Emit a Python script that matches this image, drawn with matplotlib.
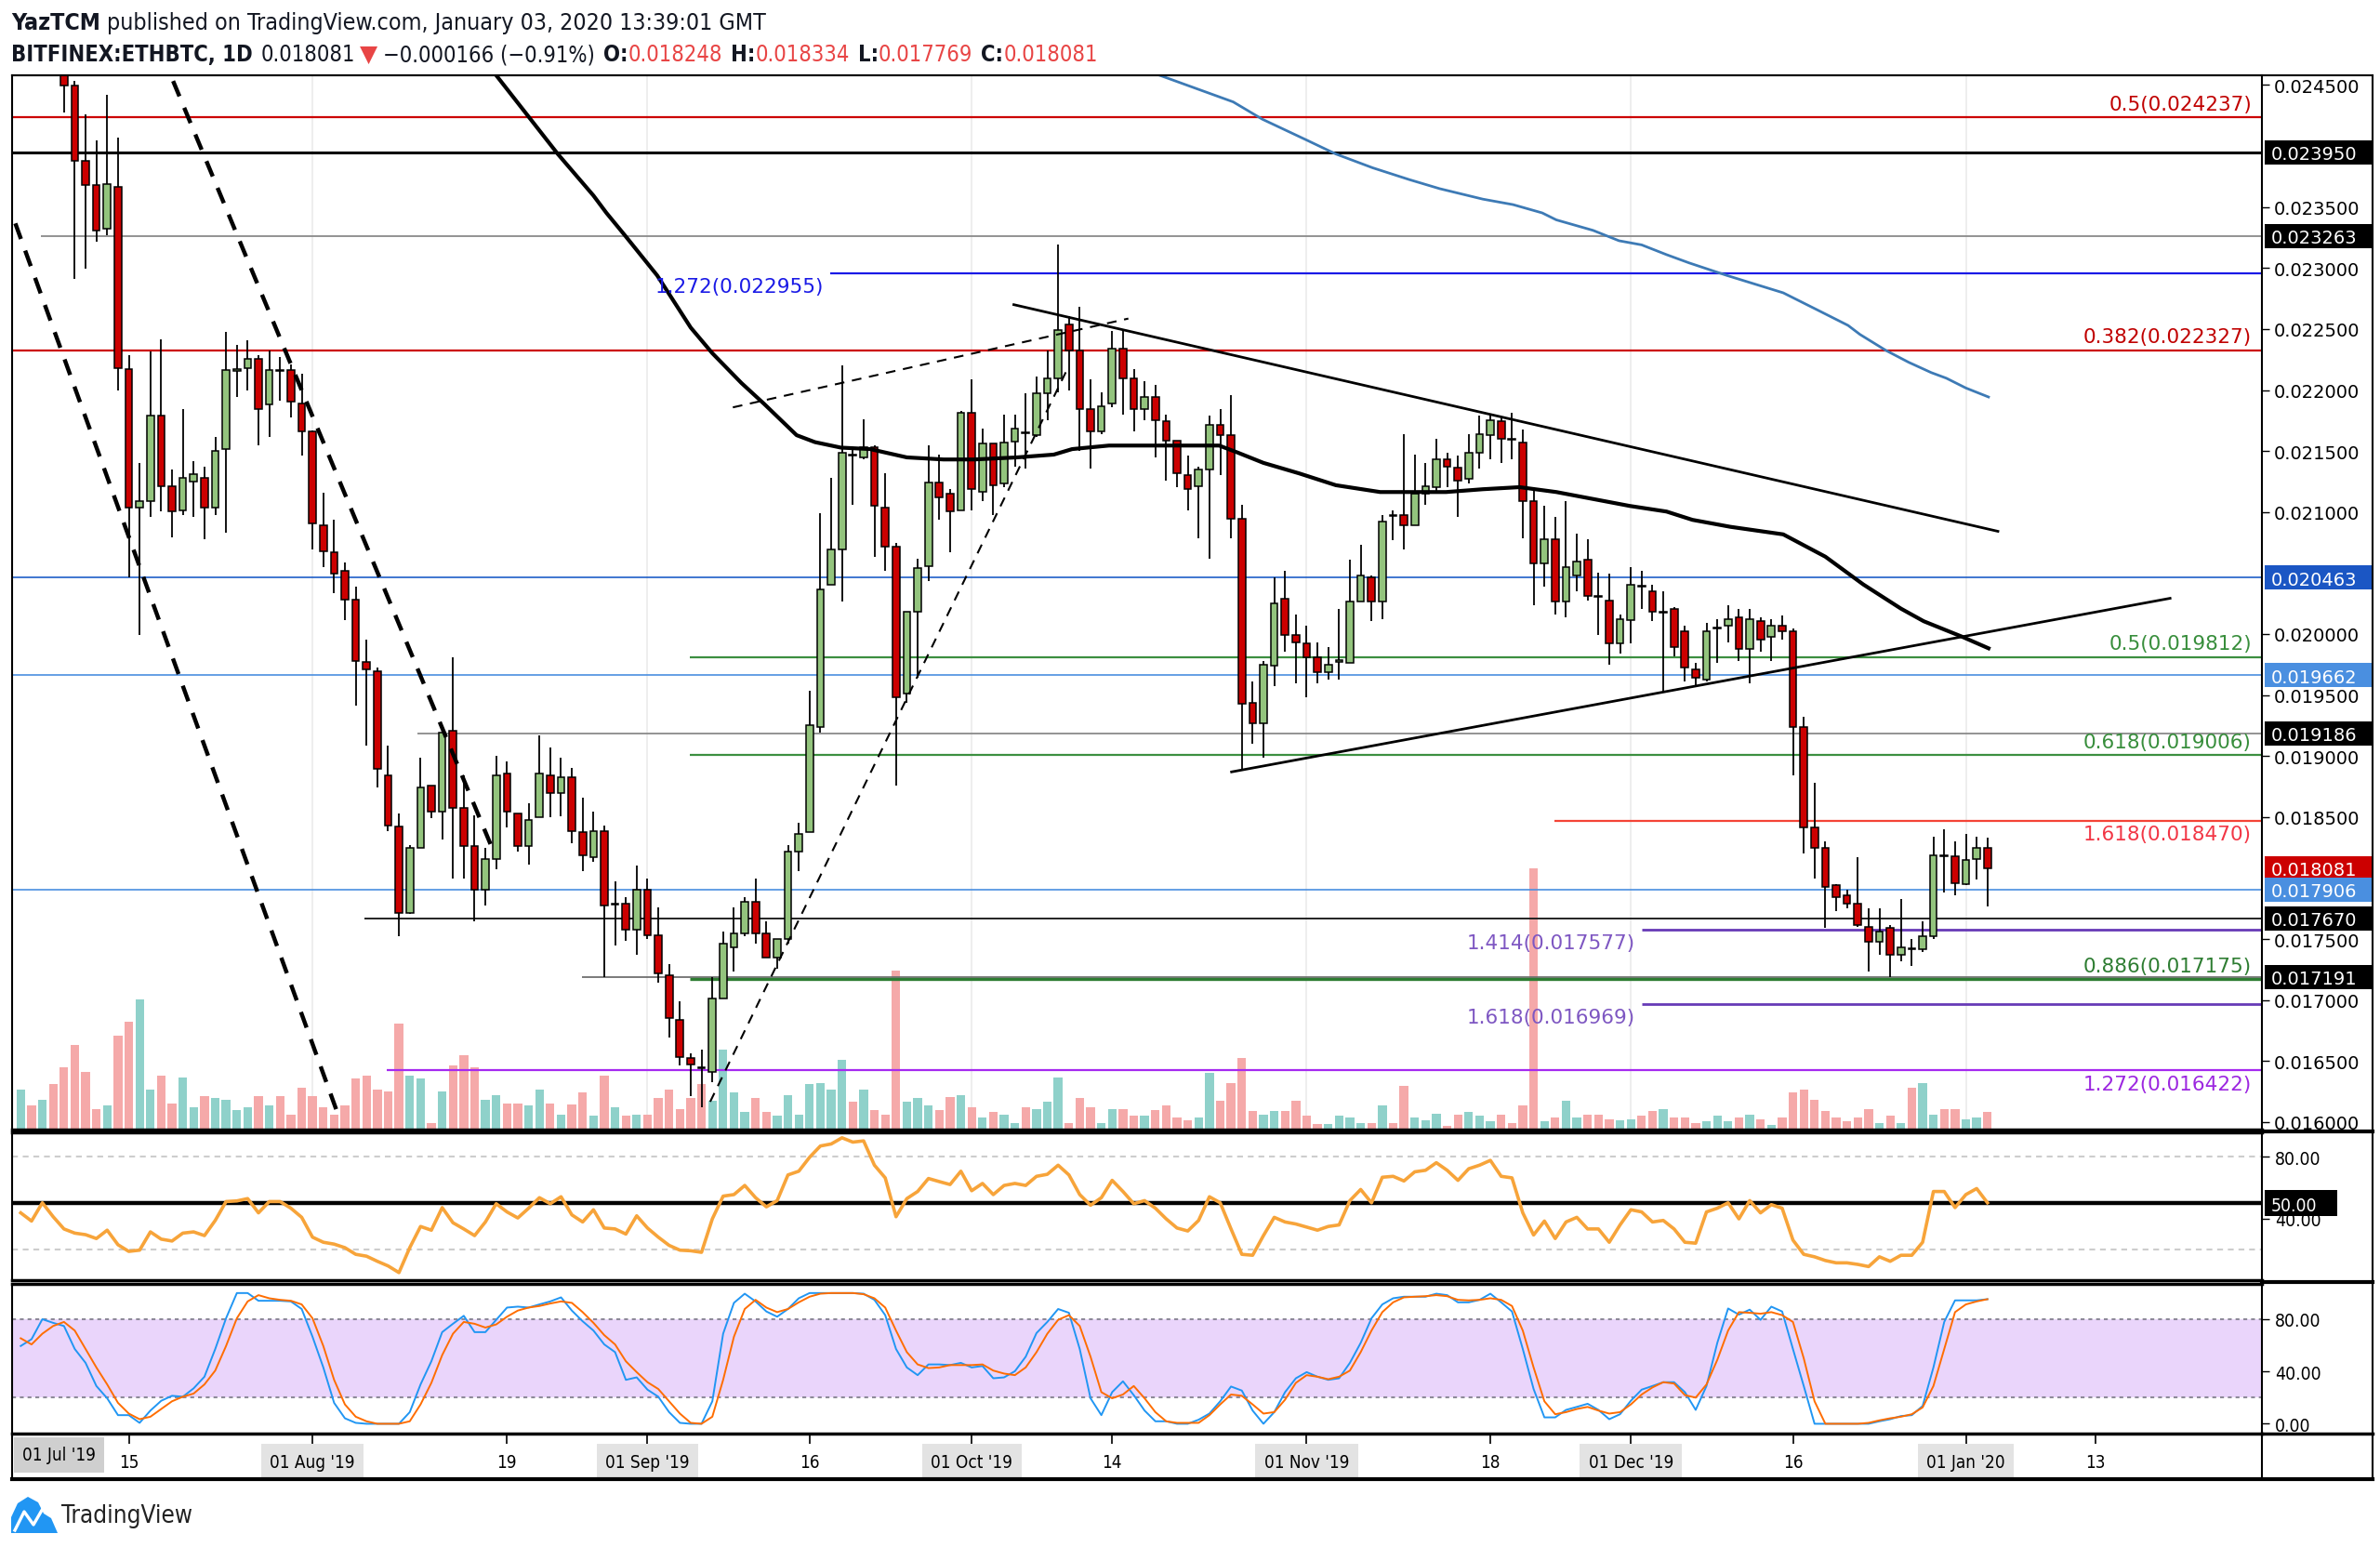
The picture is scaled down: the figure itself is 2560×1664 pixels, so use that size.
import os
import re
import matplotlib
matplotlib.use("Agg")
import matplotlib.pyplot as plt
import matplotlib.transforms as mtransforms
from matplotlib import font_manager as fm
from matplotlib.font_manager import FontProperties
from matplotlib.patches import Rectangle, Polygon
from matplotlib.lines import Line2D

# ---------------- data (day 0 = 2019-07-01) ----------------
first_day = 4

opens = [0.02490, 0.02505, 0.02488, 0.02500,
         0.02478, 0.024493, 0.023878, 0.023679, 0.023326, 0.023662, 0.022171, 0.021033, 0.021090, 0.021790,
         0.021215, 0.021016, 0.021249, 0.021278, 0.021033, 0.021516, 0.022160, 0.022182, 0.022256, 0.021881,
         0.022165, 0.022165, 0.021887, 0.021659, 0.020890, 0.020674, 0.020521, 0.020281, 0.019770, 0.019695,
         0.018841, 0.018426, 0.017715, 0.018244, 0.018756, 0.018546, 0.019211, 0.018574, 0.018261, 0.017902,
         0.018159, 0.018853, 0.018529, 0.018261, 0.018500, 0.018841, 0.018699, 0.018830, 0.018375, 0.018170,
         0.018386, 0.017783, 0.017789, 0.017578, 0.017902, 0.017533, 0.017202, 0.016838, 0.016525, 0.016445,
         0.016411, 0.017009, 0.017430, 0.017544, 0.017806, 0.017544, 0.017350, 0.017504, 0.018216, 0.018375,
         0.019240, 0.020407, 0.020692, 0.021471, 0.021448, 0.021533, 0.021033, 0.020720, 0.019513, 0.020179,
         0.020560, 0.021243, 0.021147, 0.021016, 0.021812, 0.021164, 0.021562, 0.021232, 0.021579, 0.021650,
         0.021630, 0.021972, 0.022097, 0.022541, 0.022325, 0.021847, 0.021659, 0.021887, 0.022342, 0.022097,
         0.021847, 0.021943, 0.021744, 0.021585, 0.021306, 0.021215, 0.021346, 0.021716, 0.021630, 0.020947,
         0.019439, 0.019268, 0.019741, 0.020293, 0.019991, 0.019923, 0.019809, 0.019684, 0.019775, 0.019764,
         0.020264, 0.020464, 0.020264, 0.020976, 0.020976, 0.020890, 0.021147, 0.021204, 0.021431, 0.021363,
         0.021272, 0.021488, 0.021630, 0.021744, 0.021602, 0.021573, 0.021090, 0.020577, 0.020776, 0.020264,
         0.020481, 0.020606, 0.020310, 0.020276, 0.019923, 0.020111, 0.020396, 0.020350, 0.020174, 0.020208,
         0.020020, 0.019712, 0.019627, 0.020043, 0.020065, 0.020139, 0.019877, 0.020105, 0.019980, 0.020065,
         0.020020, 0.019240, 0.018415, 0.018244, 0.017942, 0.017862, 0.017789, 0.017601, 0.017476, 0.017590,
         0.017373, 0.017419, 0.017419, 0.017521, 0.018181, 0.018176, 0.017948, 0.018159, 0.018248]

highs = [0.02520, 0.02525, 0.02515, 0.02510,
         0.02485, 0.024533, 0.024260, 0.024049, 0.024419, 0.024066, 0.022285, 0.021403, 0.022313, 0.022416,
         0.021346, 0.021841, 0.021414, 0.021369, 0.021619, 0.022473, 0.022370, 0.022410, 0.022285, 0.022325,
         0.022268, 0.022211, 0.022131, 0.021670, 0.021158, 0.020936, 0.020583, 0.020390, 0.019951, 0.019724,
         0.019086, 0.018528, 0.018272, 0.018984, 0.018756, 0.019194, 0.019809, 0.018841, 0.018511, 0.018244,
         0.019001, 0.018956, 0.018529, 0.018614, 0.019171, 0.019069, 0.018984, 0.018900, 0.018659, 0.018546,
         0.018432, 0.017976, 0.017840, 0.018102, 0.017999, 0.017760, 0.017293, 0.016992, 0.016564, 0.016593,
         0.017191, 0.017561, 0.017760, 0.017846, 0.017999, 0.017646, 0.017504, 0.018272, 0.018455, 0.019536,
         0.020993, 0.021278, 0.022199, 0.021516, 0.021761, 0.021545, 0.021317, 0.020748, 0.020179, 0.020617,
         0.021545, 0.021471, 0.021187, 0.021830, 0.022086, 0.021687, 0.021562, 0.021801, 0.021801, 0.021972,
         0.022114, 0.022325, 0.023195, 0.022609, 0.022683, 0.022086, 0.021983, 0.022484, 0.022495, 0.022171,
         0.022074, 0.022040, 0.021801, 0.021585, 0.021460, 0.021374, 0.021790, 0.021847, 0.021960, 0.021061,
         0.019610, 0.019780, 0.020464, 0.020521, 0.020162, 0.020065, 0.019934, 0.019894, 0.020208, 0.020606,
         0.020731, 0.020481, 0.020976, 0.021016, 0.021642, 0.021471, 0.021403, 0.021602, 0.021488, 0.021460,
         0.021642, 0.021790, 0.021790, 0.021773, 0.021812, 0.021676, 0.021187, 0.021050, 0.020959, 0.021090,
         0.020822, 0.020776, 0.020504, 0.020492, 0.020162, 0.020549, 0.020521, 0.020407, 0.020350, 0.020219,
         0.020065, 0.019763, 0.020094, 0.020122, 0.020236, 0.020208, 0.020208, 0.020139, 0.020122, 0.020151,
         0.020048, 0.019325, 0.018784, 0.018301, 0.017953, 0.017902, 0.018170, 0.017749, 0.017749, 0.017618,
         0.017828, 0.017504, 0.017646, 0.018341, 0.018398, 0.018301, 0.018358, 0.018341, 0.018334]

lows = [0.02476, 0.02480, 0.02475, 0.02470,
        0.024277, 0.022911, 0.022996, 0.023213, 0.023270, 0.021999, 0.020464, 0.019991, 0.020959, 0.021004,
        0.020793, 0.020976, 0.020959, 0.020776, 0.020976, 0.020833, 0.021943, 0.021999, 0.021545, 0.021619,
        0.021915, 0.021773, 0.021460, 0.020691, 0.020549, 0.020333, 0.020111, 0.019411, 0.019086, 0.018739,
        0.018386, 0.017521, 0.017703, 0.018244, 0.018489, 0.018318, 0.017999, 0.017999, 0.017646, 0.017771,
        0.018073, 0.018415, 0.018216, 0.018113, 0.018500, 0.018500, 0.018506, 0.018284, 0.018056, 0.018130,
        0.017191, 0.017447, 0.017487, 0.017373, 0.017504, 0.017145, 0.016690, 0.016462, 0.016212, 0.016121,
        0.016326, 0.017009, 0.017236, 0.017521, 0.017464, 0.017350, 0.017259, 0.017464, 0.018056, 0.018375,
        0.019194, 0.020407, 0.020265, 0.021061, 0.021431, 0.020634, 0.020521, 0.018756, 0.019439, 0.019638,
        0.020435, 0.020936, 0.020674, 0.021016, 0.021016, 0.021090, 0.020976, 0.021204, 0.021374, 0.021357,
        0.021619, 0.021756, 0.021983, 0.021999, 0.021505, 0.021357, 0.021642, 0.021858, 0.021801, 0.021659,
        0.021756, 0.021448, 0.021261, 0.021204, 0.021016, 0.020788, 0.020617, 0.021301, 0.020788, 0.018887,
        0.019097, 0.018984, 0.019570, 0.019854, 0.019593, 0.019479, 0.019593, 0.019627, 0.019627, 0.019764,
        0.020264, 0.020105, 0.020122, 0.020766, 0.020691, 0.020890, 0.021061, 0.021175, 0.021204, 0.020959,
        0.021232, 0.021357, 0.021431, 0.021403, 0.021431, 0.020788, 0.020236, 0.020390, 0.020162, 0.020139,
        0.020350, 0.020276, 0.019991, 0.019752, 0.019837, 0.019923, 0.020208, 0.020105, 0.019524, 0.019820,
        0.019610, 0.019570, 0.019610, 0.019764, 0.019934, 0.019781, 0.019593, 0.019854, 0.019781, 0.019951,
        0.018841, 0.018204, 0.017999, 0.017590, 0.017732, 0.017749, 0.017601, 0.017237, 0.017373, 0.017191,
        0.017316, 0.017276, 0.017390, 0.017504, 0.017885, 0.017862, 0.017942, 0.017988, 0.017769]

closes = [0.02505, 0.02488, 0.02500, 0.02478,
          0.024493, 0.023878, 0.023679, 0.023309, 0.023691, 0.022182, 0.021033, 0.021090, 0.021790, 0.021215,
          0.021004, 0.021278, 0.021312, 0.021033, 0.021505, 0.022165, 0.022171, 0.022256, 0.021847, 0.022165,
          0.022160, 0.021904, 0.021659, 0.020907, 0.020680, 0.020492, 0.020281, 0.019781, 0.019707, 0.018898,
          0.018432, 0.017715, 0.018244, 0.018745, 0.018546, 0.019194, 0.018574, 0.018261, 0.017902, 0.018159,
          0.018841, 0.018546, 0.018261, 0.018472, 0.018853, 0.018699, 0.018824, 0.018386, 0.018187, 0.018386,
          0.017771, 0.017789, 0.017578, 0.017902, 0.017533, 0.017219, 0.016849, 0.016536, 0.016468, 0.016440,
          0.017009, 0.017459, 0.017544, 0.017806, 0.017544, 0.017350, 0.017504, 0.018216, 0.018358, 0.019251,
          0.020367, 0.020692, 0.021488, 0.021465, 0.021533, 0.021050, 0.020720, 0.019479, 0.020179, 0.020538,
          0.021243, 0.021118, 0.021004, 0.021812, 0.021186, 0.021562, 0.021220, 0.021573, 0.021687, 0.021645,
          0.021972, 0.022097, 0.022495, 0.022325, 0.021847, 0.021659, 0.021869, 0.022342, 0.022097, 0.021847,
          0.021943, 0.021756, 0.021585, 0.021317, 0.021186, 0.021346, 0.021716, 0.021630, 0.020947, 0.019428,
          0.019268, 0.019752, 0.020253, 0.019991, 0.019934, 0.019809, 0.019684, 0.019752, 0.019780, 0.020264,
          0.020481, 0.020264, 0.020919, 0.020970, 0.020890, 0.021147, 0.021215, 0.021431, 0.021374, 0.021261,
          0.021488, 0.021642, 0.021756, 0.021602, 0.021596, 0.021090, 0.020577, 0.020776, 0.020264, 0.020549,
          0.020595, 0.020310, 0.020305, 0.019923, 0.020122, 0.020407, 0.020390, 0.020179, 0.020179, 0.019894,
          0.019724, 0.019638, 0.020020, 0.020048, 0.020122, 0.019877, 0.020122, 0.019951, 0.020065, 0.020020,
          0.019240, 0.018415, 0.018244, 0.017930, 0.017845, 0.017789, 0.017618, 0.017476, 0.017561, 0.017373,
          0.017430, 0.017413, 0.017521, 0.018187, 0.018176, 0.017959, 0.018147, 0.018244, 0.018081]

volumes = [58, 35, 43, 65,
           90, 122, 83, 30, 35, 135, 155, 187, 58, 78,
           38, 75, 32, 48, 45, 43, 28, 32, 48, 35,
           48, 22, 60, 48, 32, 22, 35, 73, 78, 58,
           55, 152, 78, 73, 10, 55, 92, 107, 90, 43,
           50, 38, 38, 35, 58, 38, 22, 36, 53, 20,
           77, 32, 20, 22, 22, 45, 58, 30, 45, 65,
           42, 115, 53, 25, 45, 25, 20, 50, 22, 65,
           67, 57, 100, 40, 58, 28, 22, 228, 40, 45,
           35, 28, 47, 50, 32, 18, 25, 22, 10, 32,
           30, 40, 75, 10, 45, 32, 10, 30, 29, 20,
           20, 28, 35, 17, 13, 17, 82, 42, 67, 103,
           27, 22, 27, 27, 42, 20, 8, 8, 20, 17,
           10, 10, 35, 10, 63, 18, 13, 23, 5, 22,
           25, 20, 12, 22, 10, 35, 375, 12, 17, 42,
           17, 22, 22, 15, 13, 15, 20, 27, 30, 18,
           17, 10, 12, 20, 12, 17, 22, 15, 7, 17,
           53, 58, 43, 27, 17, 12, 17, 30, 10, 20,
           10, 60, 67, 22, 30, 30, 15, 17, 25]

rsi = [43.7, 38.4, 50.2, 41.2, 33.3, 30.6, 29.6, 27.1, 32.5, 23.1,
       18.8, 19.6, 31.4, 26.7, 25.5, 30.6, 31.4, 29.0, 38.8, 51.0,
       51.4, 52.9, 43.7, 51.0, 51.0, 46.7, 40.8, 28.0, 24.7, 23.5,
       21.2, 16.9, 15.7, 12.4, 9.4, 5.1, 21.2, 34.9, 32.5, 47.1,
       37.3, 33.3, 29.0, 37.8, 49.6, 44.3, 40.4, 46.7, 53.5, 49.6,
       54.1, 42.4, 37.8, 45.7, 33.9, 33.3, 30.0, 41.8, 33.9, 28.0,
       22.7, 19.6, 19.2, 18.2, 39.8, 54.5, 55.5, 61.4, 53.5, 47.6,
       51.6, 68.2, 70.6, 79.6, 86.9, 88.2, 92.2, 89.4, 90.2, 74.5,
       66.3, 41.2, 52.9, 57.5, 65.9, 63.9, 62.0, 70.6, 58.0, 62.7,
       55.5, 61.4, 62.7, 61.4, 67.3, 68.6, 74.5, 68.2, 55.5, 48.6,
       53.5, 64.7, 57.5, 49.6, 51.6, 46.7, 39.8, 33.9, 32.0,
       38.8, 54.1, 50.2, 33.3, 16.9, 16.3, 29.0, 40.8, 37.8, 36.5,
       34.5, 32.5, 34.9, 35.9, 51.6, 58.8, 50.2, 66.7, 67.3, 64.3,
       70.2, 71.2, 76.1, 71.2, 64.7, 72.2, 74.5, 77.6, 67.3, 66.3,
       43.7, 29.4, 38.4, 27.1, 37.8, 40.8, 33.3, 33.3, 24.7, 35.9,
       45.7, 44.3, 37.8, 38.8, 33.3, 24.7, 24.1, 44.3, 46.7, 50.2,
       39.8, 51.6, 43.7, 49.0, 46.7, 26.1, 16.9, 15.3, 12.9, 11.4,
       11.4, 10.4, 9.0, 15.3, 12.4, 16.3, 16.3, 24.7, 57.5, 57.5,
       47.1, 55.5, 59.4, 50.2]

stoch_k = [59.5, 64.7, 80.0, 77.2, 74.8, 57.2, 46.6, 28.9, 19.5, 6.6,
           6.6, 0.7, 10.1, 17.6, 21.4, 20.7, 27.1, 36.0, 57.2, 80.7,
           100, 100, 94.1, 94.1, 94.1, 93.6, 87.8, 66.6, 43.1, 16.0,
           4.2, 0.7, 0, 0, 0, 0, 8.9, 30.1, 47.8, 70.1,
           76.5, 82.6, 70.1, 70.1, 79.5, 88.9, 89.6, 88.9, 91.3, 93.6,
           96.7, 86.6, 78.4, 71.3, 60.7, 54.8, 33.6, 35.5, 26.1, 20.7,
           8.9, 0.7, 0, 0, 17.2, 68.9, 92.5, 99.5, 93.6, 85.9,
           81.9, 87.8, 96.0, 100, 100, 100, 100, 100, 99.5, 94.8,
           83.1, 57.2, 43.1, 37.2, 45.4, 45.4, 44.9, 46.6, 43.1, 44.2,
           34.8, 35.5, 40.2, 51.3, 69.4, 77.9, 87.8, 84.9, 57.2, 19.5,
           6.6, 24.2, 32.5, 21.9, 10.1, 1.9, 1.9, 0, 0,
           3.1, 7.8, 17.2, 28.5, 25.4, 10.1, 0, 8.9, 24.2, 34.8,
           39.5, 36.0, 33.6, 34.8, 46.6, 61.9, 80.7, 91.3, 96.0, 97.2,
           97.2, 97.2, 99.5, 98.4, 92.9, 92.9, 94.8, 99.5, 92.9, 85.9,
           57.2, 26.6, 4.9, 4.9, 10.6, 12.9, 15.3, 10.6, 3.5, 7.3,
           17.6, 26.1, 28.9, 31.8, 31.8, 24.2, 10.6, 28.9, 61.9, 88.2,
           83.5, 87.3, 79.5, 89.6, 85.9, 57.2, 28.9, 0, 0, 0,
           0, 0, 0, 1.9, 3.5, 5.9, 6.6, 13.6, 43.1, 77.9,
           94.4, 94.4, 94.4, 95.3]

stoch_d = [65.4, 60.7, 68.9, 74.8, 77.9, 71.3, 57.2, 43.1, 30.1, 16.0,
           7.8, 3.5, 5.4, 11.3, 17.2, 20.7, 23.1, 30.1, 40.7, 59.5,
           80.7, 93.6, 98.4, 96.0, 94.8, 94.1, 91.3, 80.7, 59.5, 33.6,
           14.8, 5.4, 1.9, 0, 0, 0, 1.9, 14.8, 31.3, 52.5,
           68.9, 77.9, 76.5, 73.6, 76.0, 81.9, 86.6, 88.9, 90.1, 92.0,
           93.6, 92.5, 85.4, 77.2, 67.8, 60.7, 47.8, 39.5, 31.8, 26.6,
           17.2, 7.8, 0.7, 0, 5.4, 33.6, 66.6, 87.8, 94.8, 88.9,
           85.4, 87.8, 92.9, 97.2, 99.5, 100, 100, 100, 99.1, 96.0,
           88.9, 71.3, 54.8, 45.4, 42.6, 43.1, 44.9, 44.9, 44.9, 45.4,
           40.7, 38.4, 37.2, 43.1, 54.8, 68.9, 79.5, 83.1, 74.8, 51.3,
           24.2, 19.5, 22.4, 28.9, 19.5, 8.9, 1.9, 0.7, 0.7,
           0.7, 6.6, 14.8, 22.4, 21.4, 14.8, 7.8, 8.9, 18.4, 31.3,
           37.2, 36.0, 34.1, 36.0, 40.7, 54.8, 71.3, 85.4, 92.9, 96.7,
           97.2, 97.6, 98.4, 97.6, 94.8, 94.4, 94.8, 96.0, 94.8, 90.1,
           71.3, 43.1, 17.2, 7.3, 8.9, 11.3, 12.9, 10.1, 7.8, 8.9,
           14.8, 22.4, 27.8, 31.8, 30.8, 21.9, 20.0, 30.1, 48.9, 71.3,
           85.4, 84.9, 84.2, 85.4, 83.1, 77.9, 50.1, 17.2, 0, 0,
           0, 0, 0.7, 2.6, 4.2, 5.4, 7.3, 12.5, 28.9, 57.2,
           85.4, 91.3, 93.6, 95.3]

ma_blue_days = [109.4, 116.2, 118.9, 123.0, 125.7, 129.1, 132.5, 135.3, 139.3, 142.1, 144.8, 146.1,
                149.5, 151.9, 154.0, 156.3, 158.4, 161.9, 167.1, 170.3, 173.1, 174.2, 176.6, 178.7,
                180.8, 182.2, 184.0, 186.1]
ma_blue = [0.02458, 0.024362, 0.024220, 0.024049, 0.023935, 0.023822, 0.023725, 0.023651, 0.023565,
           0.023520, 0.023452, 0.023395, 0.023309, 0.023224, 0.023190, 0.023110, 0.023042, 0.022939,
           0.022797, 0.022655, 0.022530, 0.022456, 0.022325, 0.022228, 0.022143, 0.022097, 0.022017,
           0.021943]

ma_black_days = [48.0, 53.7, 57.0, 58.2, 59.9, 62.9, 66.0, 68.0, 70.7, 72.8, 75.8, 77.5, 79.9, 82.6,
                 86.0, 89.4, 92.2, 96.2, 99.6, 101.3, 104.7, 108.7, 114.9, 116.6, 119.0, 122.3, 125.7,
                 129.8, 135.9, 139.3, 142.7, 146.1, 149.5, 152.9, 156.3, 158.7, 162.2, 167.1, 171.0,
                 174.5, 178.0, 180.1, 183.6, 186.1]
ma_black = [0.02458, 0.023935, 0.023594, 0.023452, 0.023269, 0.022939, 0.022512, 0.022302, 0.022057,
            0.021886, 0.021630, 0.021573, 0.021528, 0.021516, 0.021448, 0.021431, 0.021431, 0.021448,
            0.021471, 0.021516, 0.021545, 0.021545, 0.021545, 0.021488, 0.021403, 0.021317, 0.021220,
            0.021164, 0.021164, 0.021187, 0.021204, 0.021164, 0.021107, 0.021050, 0.021004, 0.020936,
            0.020879, 0.020817, 0.020634, 0.020407, 0.020208, 0.020105, 0.019980, 0.019883]

# trend lines: (day0, price0, day1, price1)
channel_dash = [(3.5, 0.023366, 33.4, 0.016053), (18.1, 0.024533, 47.5, 0.018272)]
thin_dash = [(67.8, 0.016166, 101.0, 0.022199), (69.9, 0.021858, 106.5, 0.022586)]
solid_trend = [(95.9, 0.022700, 186.97, 0.020842), (116.05, 0.018870, 202.9, 0.020293)]

# horizontal levels: value, first day of the line (None = whole pane)
level_values = [0.024237, 0.023950, 0.023263, 0.022955, 0.022327, 0.020463, 0.019812, 0.019662,
                0.019186, 0.019006, 0.018470, 0.017906, 0.017670, 0.017577, 0.017191, 0.017175,
                0.016969, 0.016422]
level_start = [None, None, 5.9, 78.9, None, None, 65.9, None,
               40.7, 65.9, 145.9, None, 35.8, 154.0, 55.9, 65.9,
               154.0, 37.9]
level_colors = ['#cc0000', '#000000', '#8a8a8a', '#1a1ae6', '#cc0000', '#1f5fc8', '#3c8f40', '#4a8fe0',
                '#8a8a8a', '#3c8f40', '#f44336', '#4a8fe0', '#222222', '#673ab7', '#6f6f6f', '#2e7d32',
                '#673ab7', '#a52af0']
level_lw = [1.6, 2.2, 1.3, 1.6, 1.6, 1.2, 1.6, 1.2, 1.3, 1.6, 1.6, 1.2, 1.4, 2.0, 1.3, 2.4, 2.0, 1.6]

fib_right = [(0.024237, '0.5(0.024237)', '#c00000', 'above'),
             (0.022327, '0.382(0.022327)', '#c00000', 'above'),
             (0.019812, '0.5(0.019812)', '#388e3c', 'above'),
             (0.019006, '0.618(0.019006)', '#388e3c', 'above'),
             (0.018470, '1.618(0.018470)', '#f23645', 'below'),
             (0.017175, '0.886(0.017175)', '#2e7d32', 'above'),
             (0.016422, '1.272(0.016422)', '#9c27e0', 'below')]
fib_left = [(0.022955, 78.9, '1.272(0.022955)', '#1a1ae6'),
            (0.017577, 154.0, '1.414(0.017577)', '#7e57c2'),
            (0.016969, 154.0, '1.618(0.016969)', '#7e57c2')]

price_ticks = [0.0245, 0.0235, 0.0230, 0.0225, 0.0220, 0.0215, 0.0210, 0.0200, 0.0195,
               0.0190, 0.0185, 0.0175, 0.0170, 0.0165, 0.0160]
price_boxes = [(0.023950, '#000000'), (0.023263, '#000000'), (0.020463, '#1b56c4'),
               (0.019662, '#4a8fe0'), (0.019186, '#000000'), (0.018081, '#cc0000'),
               (0.017906, '#4a8fe0'), (0.017670, '#000000'), (0.017191, '#000000')]

month_days = [31, 62, 92, 123, 153, 184]
date_ticks = [14, 31, 49, 62, 77, 92, 105, 123, 140, 153, 168, 184, 196]
date_labels = ['15', "01 Aug '19", '19', "01 Sep '19", '16', "01 Oct '19", '14',
               "01 Nov '19", '18', "01 Dec '19", '16', "01 Jan '20", '13']


# ---------------- fonts: pick a narrow face if one is installed ----------------
def narrow_font(bold):
    prefs = ['liberationsansnarrow', 'dejavusanscondensed', 'notosanscondensed',
             'robotocondensed', 'opensanscondensed']
    best, best_rank = None, len(prefs)
    for f in fm.fontManager.ttflist:
        if f.style != 'normal':
            continue
        w = f.weight if isinstance(f.weight, int) else fm.weight_dict.get(f.weight, 400)
        if bold and not (650 <= w <= 750):
            continue
        if not bold and w != 400:
            continue
        key = re.sub('[^a-z]', '', (f.name + os.path.basename(f.fname)).lower())
        for rank, p in enumerate(prefs):
            if p in key and rank < best_rank:
                best, best_rank = f.fname, rank
    if best is None:
        return FontProperties(family='Liberation Sans', weight='bold' if bold else 'normal')
    return FontProperties(fname=best)


FP_REG = narrow_font(False)
FP_BOLD = narrow_font(True)

W, H = 2560, 1665
fig = plt.figure(figsize=(W / 100, H / 100), dpi=100)
fig.patch.set_facecolor('white')
renderer = fig.canvas.get_renderer()


def fp(bold=False, size=16):
    p = (FP_BOLD if bold else FP_REG).copy()
    p.set_size(size)
    return p


def text_width(s, prop):
    t = fig.text(0, 0, s, fontproperties=prop)
    w = t.get_window_extent(renderer).width
    t.remove()
    return w


def fit_size(s, bold, target_px, base=20.0):
    return base * target_px / text_width(s, fp(bold, base))


def box(x0, y_top, x1, y_bot):
    return [x0 / W, 1 - y_bot / H, (x1 - x0) / W, (y_bot - y_top) / H]


ax = fig.add_axes(box(13, 82, 2433, 1216))
ax_vol = ax.twinx()
ax_rsi = fig.add_axes(box(13, 1219, 2433, 1378), sharex=ax)
ax_st = fig.add_axes(box(13, 1382, 2433, 1543), sharex=ax)

XMIN, XMAX = 3.2, 211.4
YMIN, YMAX = 0.015938, 0.02458
ax.set_xlim(XMIN, XMAX)
ax.set_ylim(YMIN, YMAX)

days = list(range(first_day, first_day + len(closes)))
up = [c >= o for o, c in zip(opens, closes)]

# volume (behind everything)
ax_vol.bar(days, volumes, width=0.8, color=['#8fd1ca' if u else '#f5a9a9' for u in up], zorder=1)
ax_vol.set_ylim(0, 1515)
ax_vol.set_yticks([])
for s in ax_vol.spines.values():
    s.set_visible(False)
for md in month_days:
    ax_vol.axvline(md, color='#ebebeb', lw=1.2, zorder=0)
ax.set_zorder(ax_vol.get_zorder() + 1)
ax.patch.set_visible(False)

# levels
for v, st, c, lw in zip(level_values, level_start, level_colors, level_lw):
    ax.hlines(v, XMIN if st is None else st, XMAX, colors=c, lw=lw, zorder=2)

# candles
ax.vlines(days, lows, highs, colors='black', lw=1.3, zorder=3)
ax.bar(days, [max(abs(c - o), 0.000008) for o, c in zip(opens, closes)],
       bottom=[min(o, c) for o, c in zip(opens, closes)], width=0.66,
       color=['#93c47d' if u else '#cc0000' for u in up], edgecolor='black', linewidth=1.1, zorder=4)

# moving averages
ax.plot(ma_blue_days, ma_blue, color='#3d7ab5', lw=2.0, zorder=5)
ax.plot(ma_black_days, ma_black, color='black', lw=3.0, zorder=5)

# trend lines
for d0, p0, d1, p1 in channel_dash:
    ax.plot([d0, d1], [p0, p1], color='black', lw=3.2, linestyle=(0, (4, 3)), zorder=5)
for d0, p0, d1, p1 in thin_dash:
    ax.plot([d0, d1], [p0, p1], color='black', lw=1.5, linestyle=(0, (5, 4)), zorder=5)
for d0, p0, d1, p1 in solid_trend:
    ax.plot([d0, d1], [p0, p1], color='black', lw=2.0, zorder=5)

# fib labels
tr_ax = mtransforms.blended_transform_factory(ax.transAxes, ax.transData)
for v, txt, c, where in fib_right:
    ax.annotate(txt, xy=(1, v), xycoords=tr_ax, xytext=(-8, 3 if where == 'above' else -3),
                textcoords='offset points', ha='right', va='bottom' if where == 'above' else 'top',
                fontsize=15.5, color=c, family='DejaVu Sans', zorder=6)
for v, d_end, txt, c in fib_left:
    ax.annotate(txt, xy=(d_end, v), xytext=(-5, -3), textcoords='offset points',
                ha='right', va='top', fontsize=15.5, color=c, family='DejaVu Sans', zorder=6)

# price scale
ax.yaxis.tick_right()
ax.set_yticks(price_ticks)
ax.set_yticklabels([f'{v:.6f}' for v in price_ticks])
ax.tick_params(axis='y', direction='out', length=6, width=1, pad=3, labelsize=14)
ax.tick_params(axis='x', bottom=False, labelbottom=False)


def scale_box(axis, value, text, color, x1_px, prop, half_px=13):
    tr = mtransforms.blended_transform_factory(fig.transFigure, axis.transData)
    y0, y1 = axis.get_ylim()
    half = half_px * (y1 - y0) / (axis.get_position().height * H)
    axis.add_patch(Rectangle((2436 / W, value - half), (x1_px - 2436) / W, 2 * half, transform=tr,
                             facecolor=color, edgecolor='none', clip_on=False, zorder=8))
    axis.text(2443 / W, value, text, transform=tr, color='white', fontproperties=prop,
              va='center_baseline', ha='left', clip_on=False, zorder=9)


price_prop = FontProperties(family='DejaVu Sans', size=14)
for v, c in price_boxes:
    scale_box(ax, v, f'{v:.6f}', c, 2552, price_prop)

# indicator scale labels (narrow font)
ind_size = fit_size('80.00', False, 50)
ind_prop = fp(False, ind_size)

# RSI pane
rsi_days = list(range(first_day, first_day + len(rsi)))
ax_rsi.set_ylim(0.2, 95.7)
ax_rsi.axhline(80, color='#cdcdcd', lw=1.5, linestyle=(0, (3, 2.5)))
ax_rsi.axhline(20, color='#cdcdcd', lw=1.5, linestyle=(0, (3, 2.5)))
ax_rsi.axhline(50, color='black', lw=3.2, zorder=2)
ax_rsi.plot(rsi_days, rsi, color='#f7a43a', lw=2.6, zorder=3)
ax_rsi.yaxis.tick_right()
ax_rsi.set_yticks([40, 80])
ax_rsi.set_yticklabels(['40.00', '80.00'])
ax_rsi.tick_params(axis='y', direction='out', length=6, width=1, pad=4)
ax_rsi.tick_params(axis='x', bottom=False, labelbottom=False)
for lbl in ax_rsi.get_yticklabels():
    lbl.set_fontproperties(ind_prop)
scale_box(ax_rsi, 50, '50.00', '#000000', 2514, ind_prop, half_px=14)

# Stoch RSI pane
st_days = list(range(first_day, first_day + len(stoch_k)))
ax_st.set_ylim(-7.5, 107)
ax_st.axhspan(20, 80, color='#ead5fb', lw=0, zorder=0)
ax_st.axhline(80, color='#8e8a99', lw=1.5, linestyle=(0, (2, 2)))
ax_st.axhline(20, color='#8e8a99', lw=1.5, linestyle=(0, (2, 2)))
ax_st.plot(st_days, stoch_k, color='#2196f3', lw=1.4, zorder=3)
ax_st.plot(st_days, stoch_d, color='#ff6d00', lw=1.4, zorder=3)
ax_st.yaxis.tick_right()
ax_st.set_yticks([0, 40, 80])
ax_st.set_yticklabels(['0.00', '40.00', '80.00'])
ax_st.tick_params(axis='y', direction='out', length=6, width=1, pad=4)
for lbl in ax_st.get_yticklabels():
    lbl.set_fontproperties(ind_prop)

# date axis
date_size = fit_size("01 Oct '19", False, 88)
date_prop = fp(False, date_size)
ax_st.set_xticks(date_ticks)
ax_st.set_xticklabels(date_labels)
ax_st.tick_params(axis='x', direction='out', length=8, width=1.2, pad=7)
for lbl in ax_st.get_xticklabels():
    lbl.set_fontproperties(date_prop)
    if lbl.get_text().startswith('01'):
        lbl.set_bbox(dict(boxstyle='square,pad=0.5', facecolor='#e3e3e3', edgecolor='none'))
ax_st.set_xlim(XMIN, XMAX)

fig.text(24 / W, 1 - 1566 / H, "01 Jul '19", fontproperties=date_prop, va='center', ha='left',
         bbox=dict(boxstyle='square,pad=0.5', facecolor='#cfcfcf', edgecolor='none'))

for a in (ax, ax_rsi, ax_st):
    for s in a.spines.values():
        s.set_color('black')
        s.set_linewidth(1.5)
ax.spines['bottom'].set_linewidth(2.5)
ax_rsi.spines['top'].set_linewidth(2.5)
ax_rsi.spines['bottom'].set_linewidth(2.5)
ax_st.spines['top'].set_linewidth(2.5)
ax_st.spines['bottom'].set_linewidth(2.5)


def fig_line(xs, ys, lw):
    fig.add_artist(Line2D([x / W for x in xs], [1 - y / H for y in ys], color='black', lw=lw,
                          transform=fig.transFigure))


fig_line([13, 2552], [82, 82], 1.5)
fig_line([2552, 2552], [82, 1592], 1.5)
fig_line([2433, 2552], [1217.5, 1217.5], 3)
fig_line([2433, 2552], [1380, 1380], 3)
fig_line([2433, 2552], [1543, 1543], 2.5)
fig_line([13, 13], [1543, 1592], 1.5)
fig_line([2433, 2433], [1543, 1592], 1.5)
fig_line([13, 2552], [1592, 1592], 3)

# header
RED = '#e84545'
DARK = '#131722'
line1 = [(0, 'YazTCM', True, DARK),
         (7, 'published on TradingView.com, January 03, 2020 13:39:01 GMT', False, DARK)]
line2 = [(0, 'BITFINEX:ETHBTC, 1D', True, DARK),
         (9, '0.018081', False, DARK),
         (5, '\u25bc', None, RED),
         (6, '\u22120.000166 (\u22120.91%)', False, DARK),
         (9, 'O:', True, DARK), (0, '0.018248', False, RED),
         (9, 'H:', True, DARK), (0, '0.018334', False, RED),
         (9, 'L:', True, DARK), (0, '0.017769', False, RED),
         (9, 'C:', True, DARK), (0, '0.018081', False, RED)]


def run_text(x0, y, pieces, size):
    x = x0
    made = []
    for gap, s, bold, color in pieces:
        x += gap
        if bold is None:
            prop = FontProperties(family='DejaVu Sans', size=size * 1.05)
        else:
            prop = fp(bold, size)
        t = fig.text(x / W, 1 - y / H, s, fontproperties=prop, color=color, va='center', ha='left')
        made.append(t)
        x = t.get_window_extent(renderer).x1
    return made, x - x0


def fitted_line(x0, y, pieces, target):
    made, width = run_text(x0, y, pieces, 20)
    for t in made:
        t.remove()
    run_text(x0, y, pieces, 20 * target / width)


fitted_line(12, 25, line1, 811)
fitted_line(12, 59, line2, 1160)

# TradingView logo
logo = [(12, 1650), (12, 1633), (19, 1618), (30, 1611), (41, 1617), (47, 1629), (55, 1634), (62, 1650)]
fig.add_artist(Polygon([(x / W, 1 - y / H) for x, y in logo], closed=True, facecolor='#2196f3',
                       edgecolor='none', transform=fig.transFigure))
zig = [(16, 1647), (26, 1627), (36, 1641), (47, 1622)]
fig.add_artist(Line2D([x / W for x, y in zig], [1 - y / H for x, y in zig], color='white', lw=2.4,
                      transform=fig.transFigure))
fig.text(66 / W, 1 - 1631 / H, 'TradingView', fontproperties=fp(False, fit_size('TradingView', False, 141)),
         color='#222222', va='center', ha='left')

fig.savefig('out.png', dpi=100)
